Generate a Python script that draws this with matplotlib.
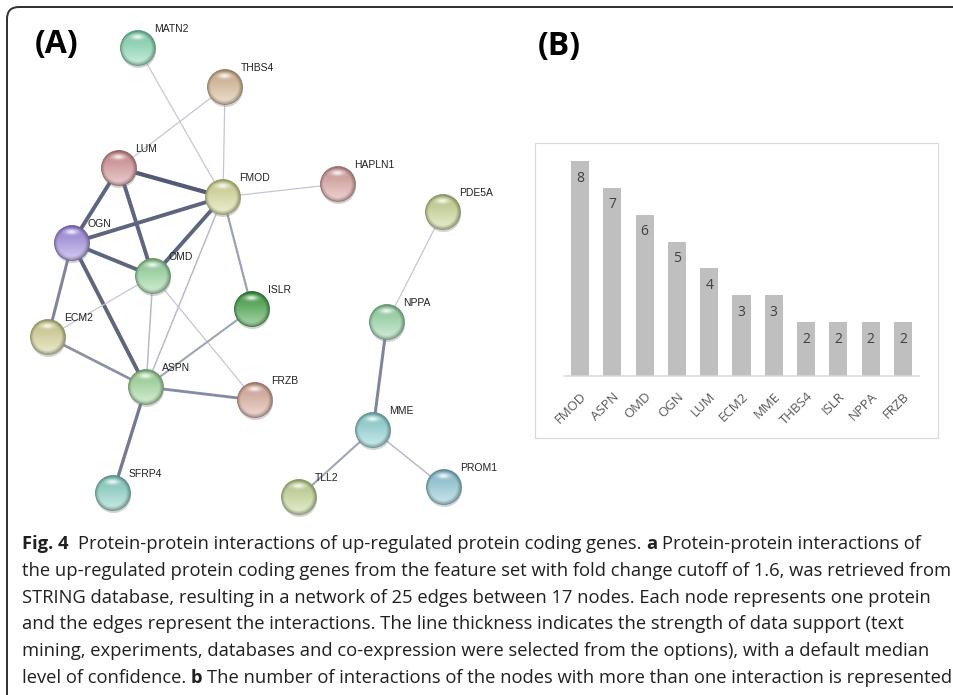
#!/usr/bin/env python
"""STRING network of up-regulated genes (A) and interaction counts (B)."""

import numpy as np
import matplotlib as mpl
mpl.use('Agg')
import matplotlib.pyplot as plt
from matplotlib.colors import to_rgb
from matplotlib.patches import Circle, FancyBboxPatch, Rectangle

W, H = 954, 695
DPI = 100

# --- network data -------------------------------------------------------
NODE_NAMES = ['MATN2', 'THBS4', 'LUM', 'FMOD', 'HAPLN1', 'PDE5A', 'OGN',
              'OMD', 'ISLR', 'ECM2', 'NPPA', 'ASPN', 'FRZB', 'MME', 'SFRP4',
              'TLL2', 'PROM1']
NODE_COLORS = ['#82dab2', '#d8b892', '#d68f92', '#d8dc94', '#da9e9c',
               '#c8d78e', '#9f88e2', '#94d89a', '#3ca240', '#d5d290',
               '#94d8a4', '#9cda98', '#dcaa98', '#8ad4d4', '#84d4c6',
               '#c3d890', '#8ac8d8']
# (source, target, confidence)
EDGES = [
    ('MATN2', 'FMOD', 0.45), ('THBS4', 'LUM', 0.45), ('THBS4', 'FMOD', 0.45),
    ('LUM', 'FMOD', 0.95), ('LUM', 'OGN', 0.9), ('LUM', 'OMD', 0.9),
    ('FMOD', 'HAPLN1', 0.45), ('FMOD', 'OGN', 0.9), ('FMOD', 'OMD', 0.9),
    ('FMOD', 'ASPN', 0.5), ('FMOD', 'ISLR', 0.62), ('OGN', 'OMD', 0.9),
    ('OGN', 'ECM2', 0.75), ('OGN', 'ASPN', 0.9), ('OMD', 'ECM2', 0.45),
    ('OMD', 'ASPN', 0.5), ('OMD', 'FRZB', 0.45), ('ECM2', 'ASPN', 0.7),
    ('ASPN', 'ISLR', 0.6), ('ASPN', 'FRZB', 0.72), ('ASPN', 'SFRP4', 0.8),
    ('PDE5A', 'NPPA', 0.45), ('NPPA', 'MME', 0.75), ('MME', 'TLL2', 0.6),
    ('MME', 'PROM1', 0.5),
]

# --- bar chart data -----------------------------------------------------
BAR_GENES = ['FMOD', 'ASPN', 'OMD', 'OGN', 'LUM', 'ECM2', 'MME', 'THBS4',
             'ISLR', 'NPPA', 'FRZB']
BAR_COUNTS = [8, 7, 6, 5, 4, 3, 3, 2, 2, 2, 2]

# --- layout (pixel coords of the network drawing) -------------------------
NODE_POS = {
    'MATN2': (138, 48), 'THBS4': (225, 87), 'LUM': (119, 168),
    'FMOD': (223, 197), 'HAPLN1': (338, 184), 'PDE5A': (443, 212),
    'OGN': (72, 243), 'OMD': (153, 276), 'ISLR': (252, 309),
    'ECM2': (48, 337), 'NPPA': (387, 322), 'ASPN': (146, 387),
    'FRZB': (255, 400), 'MME': (373, 430), 'SFRP4': (113, 493),
    'TLL2': (299, 497), 'PROM1': (444, 487),
}
R = 17.5

CAPTION = [
    [('Fig. 4', True), ('  Protein-protein interactions of up-regulated '
                        'protein coding genes. ', False), ('a', True),
     (' Protein-protein interactions of', False)],
    [('the up-regulated protein coding genes from the feature set with fold '
      'change cutoff of 1.6, was retrieved from', False)],
    [('STRING database, resulting in a network of 25 edges between 17 nodes. '
      'Each node represents one protein', False)],
    [('and the edges represent the interactions. The line thickness indicates '
      'the strength of data support (text', False)],
    [('mining, experiments, databases and co-expression were selected from '
      'the options), with a default median', False)],
    [('level of confidence. ', False), ('b', True),
     (' The number of interactions of the nodes with more than one '
      'interaction is represented', False)],
]


def px(v):
    """Pixels to points."""
    return v * 72.0 / DPI


def ball_image(color, n=64):
    """Glossy sphere look for a STRING node."""
    c = np.array(to_rgb(color))
    yy, xx = np.mgrid[-1:1:n * 1j, -1:1:n * 1j]
    t = ((yy + 1) / 2)[..., None]
    dark = c * 0.88
    light = c + (1 - c) * 0.55
    img = dark * (1 - t) + light * t
    hl = np.exp(-2.2 * ((xx / 0.55) ** 2 + ((yy + 0.62) / 0.22) ** 2))
    img = img + (1 - img) * hl[..., None] * 0.85
    r = np.sqrt(xx ** 2 + yy ** 2)
    rim = np.clip((r - 0.8) / 0.2, 0, 1)[..., None]
    img = img * (1 - 0.28 * rim)
    return np.clip(img, 0, 1)


def edge_style(score):
    lo = np.array(to_rgb('#c2c5d4'))
    hi = np.array(to_rgb('#535a76'))
    f = np.clip((score - 0.45) / 0.5, 0, 1)
    return lo + (hi - lo) * f, px(1.2 + 3.0 * f)


fig = plt.figure(figsize=(W / DPI, H / DPI), dpi=DPI, facecolor='white')
ax = fig.add_axes([0, 0, 1, 1])
ax.set_facecolor('none')

# outer frame (cropped at right/bottom)
ax.add_patch(FancyBboxPatch((7, 7), 980, 720,
                            boxstyle='round,pad=0,rounding_size=12',
                            fc='none', ec='#333333', lw=px(2.0), zorder=1))

# edges
for a, b, s in EDGES:
    (x0, y0), (x1, y1) = NODE_POS[a], NODE_POS[b]
    col, lw = edge_style(s)
    ax.plot([x0, x1], [y0, y1], color=col, lw=lw, solid_capstyle='butt',
            zorder=2)

# nodes
for name, color in zip(NODE_NAMES, NODE_COLORS):
    x, y = NODE_POS[name]
    ax.add_patch(Circle((x + 0.5, y + 2.5), R, fc='#808080', ec='none',
                        alpha=0.35, zorder=3))
    circ = Circle((x, y), R, transform=ax.transData)
    im = ax.imshow(ball_image(color), extent=(x - R, x + R, y + R, y - R),
                   interpolation='bilinear', zorder=4)
    im.set_clip_path(circ)
    edge = np.array(to_rgb(color)) * 0.7
    ax.add_patch(Circle((x, y), R, fc='none', ec=edge, lw=0.6, zorder=5))
    ax.text(x + 16, y - 19, name, fontsize=7.5, family='Liberation Sans',
            color='#222222', ha='left', va='center', zorder=6)

# panel letters
ax.text(35, 45, '(A)', fontsize=23, fontweight='bold', family='Open Sans',
        ha='left', va='center', color='black')
ax.text(538, 47, '(B)', fontsize=23, fontweight='bold', family='Open Sans',
        ha='left', va='center', color='black')

# chart box
ax.add_patch(Rectangle((535, 143), 403, 295, fc='none', ec='#d9d9d9',
                       lw=px(1.2), zorder=1))

ax.set_xlim(0, W)
ax.set_ylim(H, 0)
ax.set_aspect('auto')
ax.axis('off')

# caption with inline bold runs
renderer = fig.canvas.get_renderer()


def text_width(s, size, bold):
    t = ax.text(0, 0, s, fontsize=size, family='Open Sans',
                fontweight='bold' if bold else 'normal')
    w = t.get_window_extent(renderer).width
    t.remove()
    return w


size = 12.0
natural = text_width(CAPTION[1][0][0], size, False)
size = size * 926.0 / natural
space = text_width('a a', size, False) - text_width('aa', size, False)

for i, runs in enumerate(CAPTION):
    xcur = 22.0
    ybase = 549 + 26.8 * i
    for s, bold in runs:
        lead = len(s) - len(s.lstrip(' '))
        trail = len(s) - len(s.rstrip(' '))
        xcur += lead * space
        core = s.strip(' ')
        t = ax.text(xcur, ybase, core, fontsize=size, family='Open Sans',
                    fontweight='bold' if bold else 'normal',
                    color='#231f20', ha='left', va='baseline')
        xcur += t.get_window_extent(renderer).width + trail * space

# bar chart
unit = 26.9
base_y = 376
top_val = 8.6
bx = fig.add_axes([564 / W, 1 - base_y / H, 355 / W,
                   top_val * unit / H])
xs = np.arange(len(BAR_GENES))
bars = bx.bar(xs, BAR_COUNTS, width=0.56, color='#bfbfbf', zorder=2)
for xi, v in zip(xs, BAR_COUNTS):
    bx.text(xi, v - 0.64, str(v), ha='center', va='center', fontsize=10,
            family='Open Sans', color='#404040')
bx.set_xlim(-0.5, len(BAR_GENES) - 0.5)
bx.set_ylim(0, top_val)
bx.set_xticks(xs)
bx.set_xticklabels(BAR_GENES, rotation=45, ha='right', rotation_mode='anchor',
                   fontsize=9.5, family='Open Sans', color='#595959')
bx.tick_params(axis='x', length=0, pad=10)
bx.set_yticks([])
for side in ['top', 'left', 'right']:
    bx.spines[side].set_visible(False)
bx.spines['bottom'].set_color('#d9d9d9')
bx.spines['bottom'].set_linewidth(px(1.5))
bx.set_facecolor('none')

fig.savefig('out.png', dpi=DPI, facecolor='white')
